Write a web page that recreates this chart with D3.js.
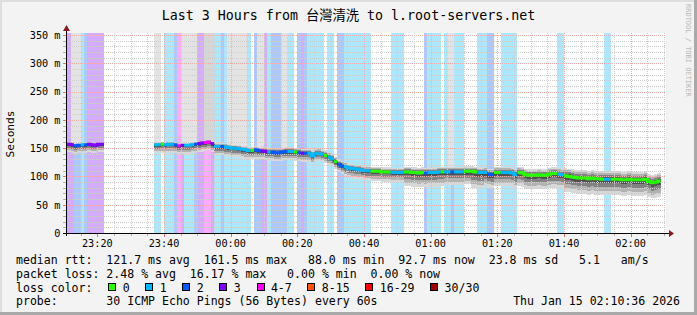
<!DOCTYPE html>
<html>
<head>
<meta charset="utf-8">
<script src="https://cdn.jsdelivr.net/npm/d3@7/dist/d3.min.js"></script>
<style>
  body { margin: 0; background: #f3f3f3; }
  svg { display: block; }
  text { font-family: "DejaVu Sans Mono", "Noto Sans CJK TC", monospace; white-space: pre; }
</style>
</head>
<body>
<svg id="chart" width="697" height="315"></svg>
<script>
// first full one-minute bin (the bin before it is cut by the graph start)
const firstBin = new Date(2026, 0, 14, 23, 11, 0);
const graphStart = new Date(2026, 0, 14, 23, 10, 36);
const graphEnd = new Date(2026, 0, 15, 2, 10, 36);

// lost pings (of 30) per minute, null = no data
const lossPings = [
  3, 3, 2, 2, 1, 2, 3, 3, 3, 3,
  3, null, null, null, null, null, null, null, null, null,
  null, null, null, null, null, null, 1, 1, 0, 1,
  1, 1, 2, 5, 3, 1, 1, 1, 2, 3,
  3, 5, 5, 3, 1, 1, 2, 1, 1, 1,
  1, 1, 1, 1, 1, 0, 2, 2, 3, 3,
  1, 2, 2, 2, 2, 2, 1, 1, 0, 2,
  3, 2, 1, 1, 1, 1, 1, 0, 1, 1,
  0, 2, 2, 1, 1, 1, 1, 1, 1, 1,
  1, 0, 0, 0, 0, 0, 0, 1, 1, 1,
  1, 0, 0, 0, 0, 0, 0, 2, 1, 1,
  1, 1, 0, 1, 1, 2, 1, 1, 1, 0,
  0, 0, 0, 1, 1, 1, 2, 2, 0, 0,
  1, 1, 1, 1, 1, 0, 0, 0, 0, 0,
  0, 0, 0, 0, 0, 0, 0, 1, 1, 0,
  0, 0, 0, 0, 0, 0, 0, 0, 0, 0,
  0, 1, 1, 0, 0, 0, 0, 0, 0, 0,
  0, 0, 0, 0, 0, 0, 0, 0, null, null
];

// median rtt (ms) per minute
const medianMs = [
  157, 156, 154, 155, 156, 156, 157, 156, 155, 157,
  157, null, null, null, null, null, null, null, null, null,
  null, null, null, null, null, null, 156, 156, 157, 156,
  157, 157, 156, 154, 155, 155, 155, 156, 157, 158,
  159, 160, 161, 158, 153, 153, 153, 152, 151, 150,
  150, 149, 148, 147, 146, 146, 147, 146, 145, 144,
  143, 143, 142, 142, 143, 144, 144, 144, 143, 142,
  141, 141, 141, 136, 140, 141, 139, 137, 134, 131,
  126, 121, 118, 117, 115, 114, 113, 112, 111, 110,
  110, 109, 109, 109, 108, 108, 108, 107, 107, 107,
  107, 108, 108, 107, 107, 106, 107, 106, 107, 107,
  107, 108, 108, 108, 108, 108, 108, 108, 108, 109,
  109, 109, 108, 107, 107, 107, 104, 103, 107, 107,
  107, 107, 107, 106, 103, 107, 106, 103, 102, 102,
  102, 103, 102, 102, 104, 105, 105, 104, 103, 101,
  100, 99, 98, 97, 97, 97, 96, 97, 96, 96,
  95, 95, 95, 95, 95, 95, 94, 94, 95, 94,
  94, 94, 94, 95, 91, 89, 90, 92, null, null
];

// smoke spread: [first bin, last bin, ms below median, ms above median]
const smokeRuns = [
  [0, 10, 14, 4], [26, 43, 15, 4], [44, 57, 16, 6], [58, 72, 15, 8],
  [73, 82, 13, 9], [83, 100, 17, 8], [101, 112, 25, 9], [113, 120, 23, 9],
  [121, 124, 29, 9], [125, 136, 24, 10], [137, 148, 25, 11], [149, 177, 28, 14]
];

// bins with pings above the top of the graph
const outlierBins = [1, 2, 3, 26, 27, 34, 35, 36, 37, 38, 48, 49, 50, 51, 52, 53,
  57, 58, 64, 65, 114, 115];
const doubleOutlierBins = [41, 42, 43];

const lossBuckets = [
  { label: '0', from: 0, to: 0, color: '#26ff00' },
  { label: '1', from: 1, to: 1, color: '#00b8ff' },
  { label: '2', from: 2, to: 2, color: '#0059ff' },
  { label: '3', from: 3, to: 3, color: '#7e00ff' },
  { label: '4-7', from: 4, to: 7, color: '#ff00ff' },
  { label: '8-15', from: 8, to: 15, color: '#ff5500' },
  { label: '16-29', from: 16, to: 29, color: '#ff0000' },
  { label: '30/30', from: 30, to: 30, color: '#a10000' }
];

const title = 'Last 3 Hours from 台灣清洗 to l.root-servers.net';
const statLines = [
  'median rtt:  121.7 ms avg  161.5 ms max   88.0 ms min  92.7 ms now  23.8 ms sd   5.1   am/s',
  'packet loss: 2.48 % avg  16.17 % max   0.00 % min  0.00 % now'
];
const probeText = 'probe:' + ' '.repeat(7) + '30 ICMP Echo Pings (56 Bytes) every 60s';
const stampText = 'Thu Jan 15 02:10:36 2026';

const W = 697, H = 315;
const svg = d3.select('#chart');

const x = d3.scaleTime().domain([graphStart, graphEnd]).range([66, 666]);
const y = d3.scaleLinear().domain([0, 353.5]).range([233, 33]);
const [pLeft, pRight] = x.range();
const [pBottom, pTop] = y.range();

const bucketOf = l => lossBuckets.find(b => l >= b.from && l <= b.to);

const bins = medianMs.map((m, i) => {
  const t0 = d3.timeMinute.offset(firstBin, i);
  const t1 = d3.timeMinute.offset(firstBin, i + 1);
  return {
    i, m, loss: lossPings[i],
    x0: i === 0 ? pLeft : Math.max(pLeft, x(t0)),
    x1: Math.min(pRight, x(t1))
  };
}).filter(d => d.x1 > d.x0);

// canvas and frame
svg.append('rect').attr('width', W).attr('height', H).attr('fill', '#f3f3f3');
svg.append('rect').attr('x', 0).attr('y', 0).attr('width', W).attr('height', 2).attr('fill', '#dedede');
svg.append('rect').attr('x', 0).attr('y', 0).attr('width', 2).attr('height', H).attr('fill', '#dedede');
svg.append('rect').attr('x', 0).attr('y', H - 3).attr('width', W).attr('height', 3).attr('fill', '#a9a9a9');
svg.append('rect').attr('x', W - 3).attr('y', 0).attr('width', 3).attr('height', H).attr('fill', '#a9a9a9');

svg.append('rect')
  .attr('x', pLeft).attr('y', pTop)
  .attr('width', pRight - pLeft).attr('height', pBottom - pTop)
  .attr('fill', '#ffffff');

const plot = svg.append('g').attr('shape-rendering', 'crispEdges');

// loss background bars
plot.append('g').selectAll('rect')
  .data(bins.filter(d => d.loss > 0))
  .join('rect')
  .attr('x', d => d.x0)
  .attr('y', pTop)
  .attr('width', d => d.x1 - d.x0)
  .attr('height', pBottom - pTop)
  .attr('fill', d => bucketOf(d.loss).color)
  .attr('fill-opacity', 0.33);

// smoke
const smokeOf = i => smokeRuns.find(r => i >= r[0] && i <= r[1]);
const smokeBins = bins.filter(d => d.m != null && smokeOf(d.i));
const shades = [[1.0, '#d8d8d8'], [0.75, '#b2b2b2'], [0.5, '#828282'], [0.25, '#505050']];

plot.append('g').selectAll('rect')
  .data(smokeBins.filter(d => outlierBins.includes(d.i) || doubleOutlierBins.includes(d.i)))
  .join('rect')
  .attr('x', d => d.x0)
  .attr('y', pTop)
  .attr('width', d => d.x1 - d.x0)
  .attr('height', d => y(d.m + smokeOf(d.i)[3]) - pTop)
  .attr('fill', d => doubleOutlierBins.includes(d.i) ? '#d6d6d6' : '#e3e3e3');

shades.forEach(([f, c]) => {
  plot.append('g').selectAll('rect')
    .data(smokeBins)
    .join('rect')
    .attr('x', d => d.x0)
    .attr('width', d => d.x1 - d.x0)
    .attr('y', d => y(d.m + smokeOf(d.i)[3] * f))
    .attr('height', d => y(d.m - smokeOf(d.i)[2] * f) - y(d.m + smokeOf(d.i)[3] * f))
    .attr('fill', c);
});

// grid
const grid = svg.append('g').attr('shape-rendering', 'crispEdges').attr('stroke-dasharray', '1,1');
const yMinor = d3.range(10, 351, 10);
grid.append('g').selectAll('line')
  .data(yMinor)
  .join('line')
  .attr('x1', pLeft).attr('x2', pRight)
  .attr('y1', d => Math.round(y(d)) + 0.5).attr('y2', d => Math.round(y(d)) + 0.5)
  .attr('stroke', d => d % 50 === 0 ? '#f2abab' : '#cdcdcd');

const xMinor = d3.timeMinute.every(5).range(graphStart, graphEnd);
grid.append('g').selectAll('line')
  .data(xMinor)
  .join('line')
  .attr('y1', pTop).attr('y2', pBottom)
  .attr('x1', d => Math.round(x(d)) + 0.5).attr('x2', d => Math.round(x(d)) + 0.5)
  .attr('stroke', d => d.getMinutes() % 20 === 0 ? '#f2abab' : '#cdcdcd');

// median line
const segments = [];
bins.forEach(d => {
  if (d.m == null) return;
  const last = segments[segments.length - 1];
  if (last && last[last.length - 1].i === d.i - 1) last.push(d);
  else segments.push([d]);
});
const stepPts = arr => arr.flatMap(d => [[d.x0, y(d.m)], [d.x1, y(d.m)]]);
const line = d3.line();

svg.append('g').selectAll('path')
  .data(segments)
  .join('path')
  .attr('d', s => line(stepPts(s)))
  .attr('fill', 'none')
  .attr('stroke', '#202020')
  .attr('stroke-width', 1);

const colourRuns = [];
segments.forEach(s => s.forEach((d, k) => {
  const b = bucketOf(d.loss);
  const last = colourRuns[colourRuns.length - 1];
  if (k > 0 && last && last.b === b) last.pts.push(d);
  else colourRuns.push({ b, pts: [d] });
}));

svg.append('g').selectAll('path')
  .data(colourRuns)
  .join('path')
  .attr('d', r => line(stepPts(r.pts)))
  .attr('fill', 'none')
  .attr('stroke', r => r.b.color)
  .attr('stroke-width', 3);

// axes
const axes = svg.append('g').attr('shape-rendering', 'crispEdges');
axes.append('g').selectAll('line')
  .data(yMinor.concat([0]))
  .join('line')
  .attr('x1', pLeft - 3).attr('x2', pLeft)
  .attr('y1', d => Math.round(y(d)) + 0.5).attr('y2', d => Math.round(y(d)) + 0.5)
  .attr('stroke', d => d % 50 === 0 ? '#e07070' : '#b0b0b0');
axes.append('g').selectAll('line')
  .data(xMinor)
  .join('line')
  .attr('y1', pBottom).attr('y2', d => d.getMinutes() % 20 === 0 ? pBottom + 4 : pBottom + 3)
  .attr('x1', d => Math.round(x(d)) + 0.5).attr('x2', d => Math.round(x(d)) + 0.5)
  .attr('stroke', d => d.getMinutes() % 20 === 0 ? '#e07070' : '#b0b0b0');

axes.append('line')
  .attr('x1', pLeft + 0.5).attr('x2', pLeft + 0.5)
  .attr('y1', pBottom + 3).attr('y2', pTop - 4)
  .attr('stroke', '#000');
axes.append('line')
  .attr('x1', pLeft - 3).attr('x2', pRight + 4)
  .attr('y1', pBottom + 0.5).attr('y2', pBottom + 0.5)
  .attr('stroke', '#000');

svg.append('path')
  .attr('d', `M${pLeft - 3},${pTop - 2}L${pLeft + 4},${pTop - 2}L${pLeft + 0.5},${pTop - 8}Z`)
  .attr('fill', '#8b1a1a');
svg.append('path')
  .attr('d', `M${pRight + 3},${pBottom - 3}L${pRight + 3},${pBottom + 4}L${pRight + 8},${pBottom + 0.5}Z`)
  .attr('fill', '#8b1a1a');

// labels
svg.append('g').selectAll('text')
  .data(d3.range(0, 351, 50))
  .join('text')
  .attr('x', 60.5)
  .attr('y', d => y(d) + 3.9)
  .attr('text-anchor', 'end')
  .attr('font-size', '10.2px')
  .attr('fill', '#000')
  .text(d => d === 0 ? '0' : `${d} m`);

svg.append('g').selectAll('text')
  .data(xMinor.filter(d => d.getMinutes() % 20 === 0))
  .join('text')
  .attr('x', d => x(d))
  .attr('y', 246.5)
  .attr('text-anchor', 'middle')
  .attr('font-size', '10.2px')
  .attr('fill', '#000')
  .text(d3.timeFormat('%H:%M'));

svg.append('text')
  .attr('transform', 'translate(14,134) rotate(-90)')
  .attr('text-anchor', 'middle')
  .attr('font-size', '11.2px')
  .text('Seconds');

svg.append('text')
  .attr('x', 348.5).attr('y', 20)
  .attr('text-anchor', 'middle')
  .attr('font-size', '13.3px')
  .text(title);

svg.append('text')
  .attr('transform', 'translate(686,4) rotate(90)')
  .attr('font-size', '7px')
  .attr('fill', '#b8b8b8')
  .text('RRDTOOL / TOBI OETIKER');

// legend
const lx = 16, cw = 6.95;
statLines.forEach((s, k) => {
  svg.append('text').attr('x', lx).attr('y', 263.5 + k * 14)
    .attr('font-size', '11.55px').text(s);
});
svg.append('text').attr('x', lx).attr('y', 291.5).attr('font-size', '11.55px').text('loss color:');
let bx = 108.3;
lossBuckets.forEach(b => {
  svg.append('rect')
    .attr('x', Math.round(bx) + 0.5).attr('y', 283.5)
    .attr('width', 7).attr('height', 7)
    .attr('fill', b.color).attr('stroke', '#000');
  svg.append('text').attr('x', bx + 14.4).attr('y', 291.5)
    .attr('font-size', '11.55px').text(b.label);
  bx += 30.1 + b.label.length * cw;
});
svg.append('text').attr('x', lx).attr('y', 305).attr('font-size', '11.55px').text(probeText);
svg.append('text').attr('x', 680).attr('y', 305).attr('text-anchor', 'end')
  .attr('font-size', '11.55px').text(stampText);
</script>
</body>
</html>
